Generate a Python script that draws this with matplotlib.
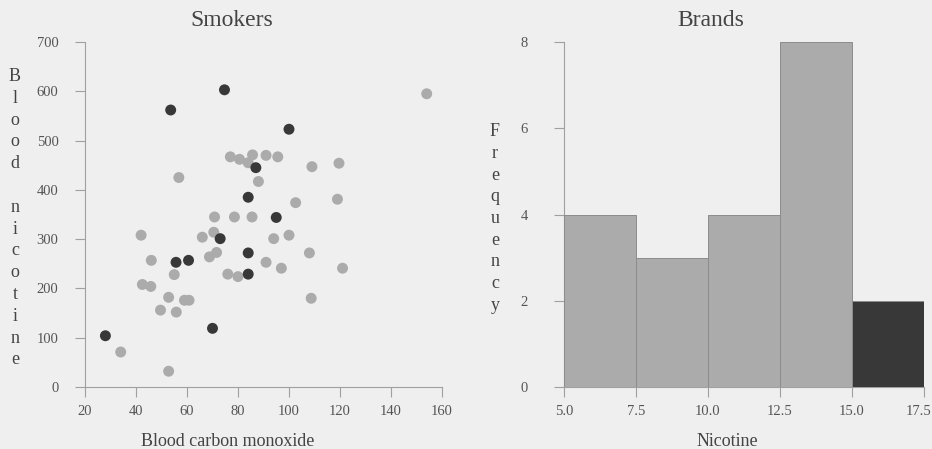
import matplotlib
matplotlib.use('Agg')
import matplotlib.pyplot as plt
import matplotlib.transforms as mtransforms
import numpy as np

# Smokers: blood carbon monoxide vs blood nicotine
co_light = [154, 77, 80.6, 84, 85.7, 91, 95.6, 109, 119.6, 88, 56.8, 102.6, 119,
            70.8, 78.6, 85.5, 42, 66, 70.5, 94, 100, 71.6, 68.8, 108, 46, 91, 97,
            121, 76, 80, 55, 42.5, 45.8, 52.8, 59, 60.8, 108.7, 49.6, 55.8, 34, 52.8]
nic_light = [595, 467, 462, 455, 471, 470, 467, 447, 454, 417, 425, 374, 381,
             345, 345, 345, 308, 304, 314, 301, 308, 273, 264, 272, 257, 253, 241,
             241, 229, 224, 228, 208, 204, 182, 176, 176, 180, 156, 152, 71, 32]
co_dark = [28, 53.6, 74.7, 100, 87, 84, 95, 73, 55.7, 60.6, 84, 84, 70]
nic_dark = [104, 562, 603, 523, 445, 385, 344, 301, 253, 257, 272, 229, 119]

# Brands: nicotine histogram
bin_edges = [5.0, 7.5, 10.0, 12.5, 15.0, 17.5]
counts = [4, 3, 4, 8, 2]
highlight = [False, False, False, False, True]

bg = '#efefef'
light = '#ababab'
dark = '#383838'
axis_col = '#a0a0a0'
text_col = '#444444'
font = 'Liberation Serif'

plt.rcParams['font.family'] = font

fig = plt.figure(figsize=(9.32, 4.49), dpi=100, facecolor=bg)
W, H = 932, 449

def px_axes(x0, x1, y0, y1):
    return fig.add_axes([x0 / W, 1 - y1 / H, (x1 - x0) / W, (y1 - y0) / H])

def style(ax, ypad):
    ax.set_facecolor(bg)
    for s in ['top', 'right']:
        ax.spines[s].set_visible(False)
    for s in ['left', 'bottom']:
        ax.spines[s].set_color(axis_col)
        ax.spines[s].set_linewidth(0.8)
    ax.tick_params(axis='both', direction='out', length=7, width=0.8,
                   color=axis_col, labelcolor='#555555', labelsize=10.5)
    ax.tick_params(axis='y', pad=ypad)
    ax.tick_params(axis='x', pad=6)

# left panel: scatter
ax1 = px_axes(85, 442, 42, 387)
ax1.scatter(co_light, nic_light, s=62, color=light, edgecolors='none', zorder=3)
ax1.scatter(co_dark, nic_dark, s=62, color=dark, edgecolors='none', zorder=4)
ax1.set_xlim(20, 160)
ax1.set_ylim(0, 700)
ax1.set_xticks(np.arange(20, 161, 20))
ax1.set_yticks(np.arange(0, 701, 100))
style(ax1, 12)

# right panel: histogram
ax2 = px_axes(564, 924, 42, 387)
widths = np.diff(bin_edges)
colors = [dark if h else light for h in highlight]
ax2.bar(bin_edges[:-1], counts, width=widths, align='edge', color=colors,
        edgecolor='#8c8c8c', linewidth=0.7, zorder=3)
ax2.set_xlim(5, 17.5)
ax2.set_ylim(0, 8)
ax2.set_xticks(bin_edges)
ax2.set_xticklabels([f'{v:.1f}' for v in bin_edges])
ax2.set_yticks([0, 2, 4, 6, 8])
style(ax2, 19)

# nudge the last tick label so it stays inside the figure
last = ax2.get_xticklabels()[-1]
last.set_transform(last.get_transform() +
                   mtransforms.ScaledTranslation(-5 / 100, 0, fig.dpi_scale_trans))

# titles and axis labels
fig.text(232 / W, 1 - 21 / H, 'Smokers', ha='center', va='center',
         fontsize=17, color=text_col)
fig.text(711 / W, 1 - 21 / H, 'Brands', ha='center', va='center',
         fontsize=17, color=text_col)
fig.text(228 / W, 1 - 441 / H, 'Blood carbon monoxide', ha='center', va='center',
         fontsize=13, color=text_col)
fig.text(727 / W, 1 - 441 / H, 'Nicotine', ha='center', va='center',
         fontsize=13, color=text_col)

# stacked vertical y labels, one letter per line
def stacked(label, x, first_base, step):
    for i, ch in enumerate(label):
        if ch == ' ':
            continue
        fig.text(x / W, 1 - (first_base + i * step) / H, ch, ha='center',
                 va='baseline', fontsize=13, color=text_col)

stacked('Blood nicotine', 15, 81, 21.8)
stacked('Frequency', 495, 136, 21.75)

fig.savefig('out.png', dpi=100, facecolor=bg)
